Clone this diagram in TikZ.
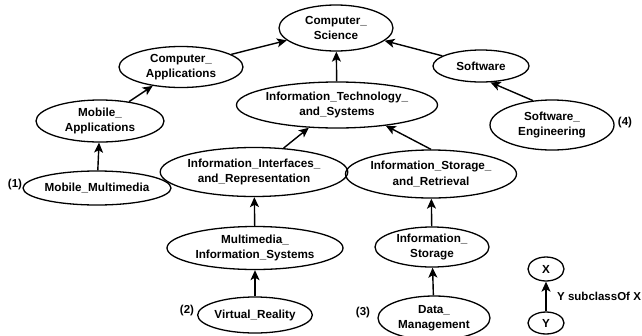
\documentclass[tikz,border=0pt]{standalone}
\usepackage{fontspec}
\setmainfont{Liberation Sans}
\usetikzlibrary{shapes.geometric,arrows.meta}
\begin{document}
\begin{tikzpicture}[x=1pt,y=-1pt,
  cls/.style={draw, ellipse, line width=1.3pt, inner sep=0pt, align=center,
    font=\fontsize{11.7}{15.5}\selectfont\bfseries},
  arr/.style={-{Stealth[length=10pt,width=9pt,inset=2.5pt]}, line width=1.4pt},
  num/.style={font=\fontsize{11.5}{14}\selectfont\bfseries, inner sep=0pt}]
\useasboundingbox (0,0) rectangle (642,335);
\node[cls, minimum width=114pt, minimum height=46pt] (cs) at (336,28) {Computer\_\\Science};
\node[cls, minimum width=124pt, minimum height=41pt] (ca) at (181,67) {Computer\_\\Applications};
\node[cls, minimum width=128pt, minimum height=42pt] (ma) at (100,121) {Mobile\_\\Applications};
\node[cls, minimum width=134pt, minimum height=34pt] (mm) at (97,188) {Mobile\_Multimedia};
\node[cls, minimum width=194pt, minimum height=46pt] (its) at (337,105) {Information\_Technology\_\\and\_Systems};
\node[cls, minimum width=178pt, minimum height=49pt] (iir) at (254,172) {Information\_Interfaces\_\\and\_Representation};
\node[cls, minimum width=164pt, minimum height=48pt] (isr) at (431,174) {Information\_Storage\_\\and\_Retrieval};
\node[cls, minimum width=176pt, minimum height=43pt] (mis) at (255,248) {Multimedia\_\\Information\_Systems};
\node[cls, minimum width=104pt, minimum height=36pt] (vr) at (255,315) {Virtual\_Reality};
\node[cls, minimum width=114pt, minimum height=40pt] (is) at (432,247) {Information\_\\Storage};
\node[cls, minimum width=112pt, minimum height=44pt] (dm) at (434,318) {Data\_\\Management};
\node[cls, minimum width=96pt, minimum height=32pt] (sw) at (481,66) {Software};
\node[cls, minimum width=124pt, minimum height=50pt] (se) at (552,125) {Software\_\\Engineering};
\node[cls, minimum width=36pt, minimum height=24pt] (x) at (546,269) {X};
\node[cls, minimum width=36pt, minimum height=22pt] (y) at (546,323) {Y};

\node[num] (n1) at (15,185) {(1)};
\node[num] (n2) at (187,311) {(2)};
\node[num] (n3) at (363,313) {(3)};
\node[num] (n4) at (625,123) {(4)};
\node[num, anchor=west] (lg) at (557,296) {Y subclassOf X};

\draw[arr] (ca) -- (cs);
\draw[arr] (ma) -- (ca);
\draw[arr] (mm) -- (ma);
\draw[arr] (its) -- (cs);
\draw[arr] (sw) -- (cs);
\draw[arr] (se.128) -- (sw.-60);
\draw[arr] (iir) -- (its);
\draw[arr] (isr.north) -- (its.-23);
\draw[arr] (mis) -- (iir);
\draw[arr] (vr) -- (mis);
\draw[arr] (is) -- (isr);
\draw[arr] (dm) -- (is);
\draw[arr] (y) -- (x);
\end{tikzpicture}
\end{document}
